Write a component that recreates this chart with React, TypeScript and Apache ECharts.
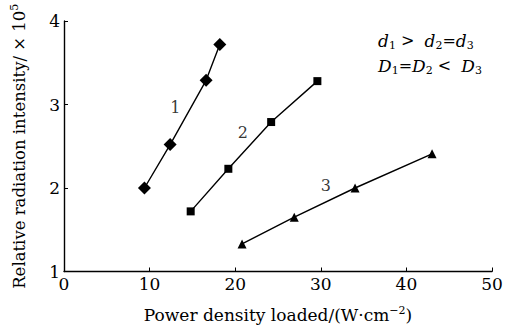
import React, { useEffect, useRef } from "react";
import * as echarts from "echarts";

const series1 = [[9.4, 2.0], [12.4, 2.52], [16.6, 3.29], [18.2, 3.72]];
const series2 = [[14.8, 1.72], [19.2, 2.23], [24.2, 2.79], [29.6, 3.28]];
const series3 = [[20.8, 1.33], [26.9, 1.65], [34.0, 2.0], [43.0, 2.41]];
const curveLabels = [
  { name: "1", value: [13.0, 2.97] },
  { name: "2", value: [20.9, 2.66] },
  { name: "3", value: [30.6, 2.03] },
];
const xTicks = [0, 10, 20, 30, 40, 50];
const yTicks = [1, 2, 3, 4];

const FONT = "DejaVu Serif";

export default function App() {
  const ref = useRef<HTMLDivElement>(null);
  useEffect(() => {
    const chart = echarts.init(ref.current!, null, { renderer: "svg" });
    const lineSeries = (data: number[][], symbol: string, size: number) => ({
      type: "line",
      data,
      symbol,
      symbolSize: size,
      lineStyle: { color: "#000", width: 1.4 },
      itemStyle: { color: "#000" },
      z: 3,
    });
    const sup = { fontSize: 11, verticalAlign: "top", padding: [0, 0, 9, 0], fontFamily: FONT, color: "#000" };
    chart.setOption({
      animation: false,
      backgroundColor: "#fff",
      textStyle: { fontFamily: FONT },
      grid: { left: 64, right: 17, top: 21, bottom: 56 },
      xAxis: {
        type: "value",
        min: xTicks[0],
        max: xTicks[xTicks.length - 1],
        interval: 10,
        name: "Power density loaded/(W·cm{sup|−2})",
        nameLocation: "middle",
        nameGap: 33,
        nameTextStyle: { fontFamily: FONT, fontSize: 17, color: "#000", rich: { sup } },
        axisLine: { lineStyle: { color: "#000", width: 1.4 } },
        axisTick: { inside: true, length: 4, lineStyle: { color: "#000" } },
        axisLabel: { fontFamily: FONT, fontSize: 17, color: "#000", margin: 4 },
        splitLine: { show: false },
      },
      yAxis: {
        type: "value",
        min: yTicks[0],
        max: yTicks[yTicks.length - 1],
        interval: 1,
        name: "Relative radiation intensity/ × 10{sup|5}",
        nameLocation: "middle",
        nameGap: 35,
        nameTextStyle: { fontFamily: FONT, fontSize: 16.5, color: "#000", rich: { sup } },
        axisLine: { show: true, lineStyle: { color: "#000", width: 1.4 } },
        axisTick: { show: true, inside: true, length: 4, lineStyle: { color: "#000" } },
        axisLabel: { fontFamily: FONT, fontSize: 17, color: "#000", margin: 4 },
        splitLine: { show: false },
      },
      series: [
        lineSeries(series1, "diamond", 13),
        lineSeries(series2, "rect", 8),
        lineSeries(series3, "triangle", 9),
        {
          type: "scatter",
          data: curveLabels,
          symbolSize: 0,
          label: {
            show: true,
            position: "inside",
            formatter: (p: any) => p.name,
            fontFamily: FONT,
            fontSize: 16,
            color: "#000",
          },
        },
      ],
      graphic: [
        {
          type: "text",
          left: 378,
          top: 28,
          style: {
            text: "{i|d}{s|1}{n| >  }{i|d}{s|2}{n|=}{i|d}{s|3}\n{i|D}{s|1}{n|=}{i|D}{s|2}{n| <  }{i|D}{s|3}",
            lineHeight: 25,
            rich: {
              i: { fontFamily: FONT, fontStyle: "italic", fontSize: 17, color: "#000", lineHeight: 25 },
              n: { fontFamily: FONT, fontSize: 16, color: "#000", lineHeight: 25 },
              s: { fontFamily: FONT, fontSize: 11, color: "#000", padding: [9, 0, 0, 0], lineHeight: 25 },
            },
          },
        },
      ],
    });
    return () => chart.dispose();
  }, []);
  return <div ref={ref} style={{ width: 509, height: 328, position: "absolute", left: 0, top: 0 }} />;
}
